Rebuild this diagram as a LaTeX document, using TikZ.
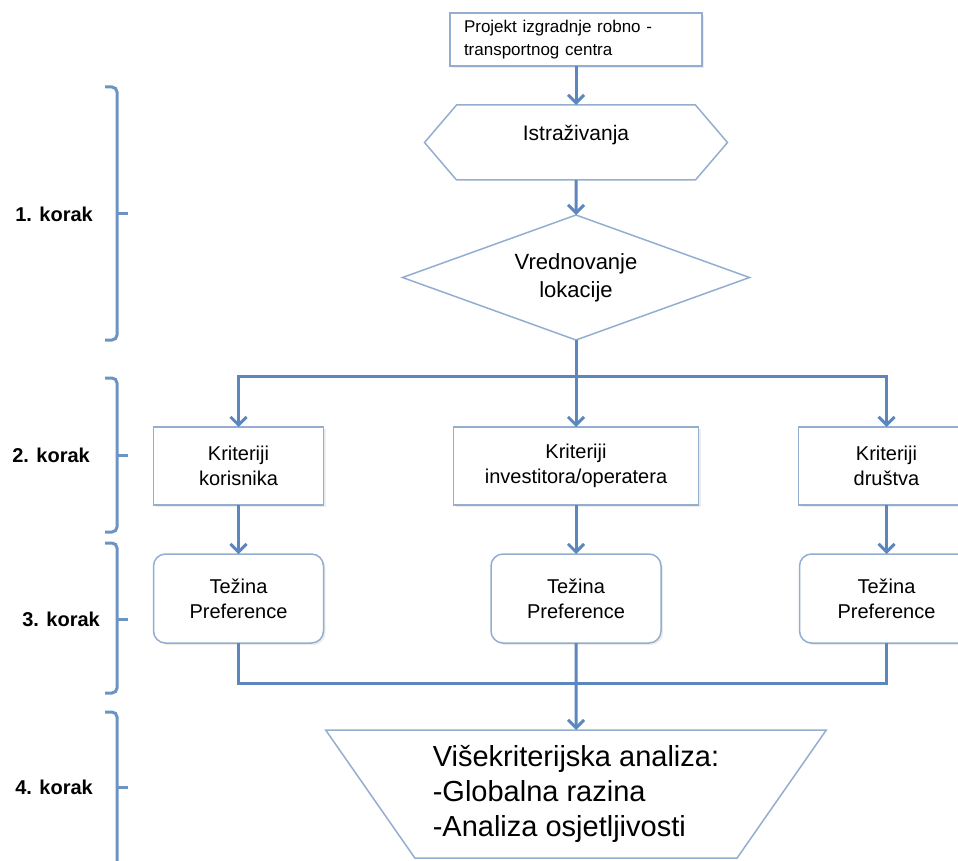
\documentclass[tikz,border=0pt]{standalone}
\usepackage{fontspec}
\setmainfont{Liberation Sans}
\usetikzlibrary{arrows.meta, shapes, shadows, calc, positioning}
\definecolor{flowblue}{HTML}{5B87BE}
\definecolor{boxline}{HTML}{93AECF}
\tikzstyle{projektbox} = [rectangle, draw=boxline, line width=1.5pt, fill=white, text width=224pt, inner xsep=14pt, minimum height=53pt, align=left, outer sep=0pt, drop shadow={opacity=0.15, shadow xshift=2pt, shadow yshift=-2pt}, font=\fontsize{17}{23}\selectfont]
\tikzstyle{hexa} = [signal, signal to=east and west, signal pointer angle=99, draw=boxline, line width=1.5pt, fill=white, minimum width=303pt, minimum height=75pt, text depth=19pt, outer sep=0pt, font=\fontsize{21}{26}\selectfont]
\tikzstyle{odluka} = [diamond, aspect=2.8, draw=boxline, line width=1.5pt, fill=white, minimum width=347pt, minimum height=125pt, inner sep=0pt, align=center, outer sep=0pt, font=\fontsize{22}{28}\selectfont]
\tikzstyle{krit} = [rectangle, draw=boxline, line width=1.5pt, fill=white, minimum height=78pt, align=center, outer sep=0pt, drop shadow={opacity=0.15, shadow xshift=2pt, shadow yshift=-2pt}, font=\fontsize{20}{25}\selectfont]
\tikzstyle{tezina} = [rectangle, rounded corners=12pt, draw=boxline, line width=1.5pt, fill=white, minimum height=89pt, align=center, outer sep=0pt, drop shadow={opacity=0.15, shadow xshift=2pt, shadow yshift=-2pt}, font=\fontsize{20}{25}\selectfont]
\tikzstyle{trapez} = [trapezium, trapezium angle=52, shape border rotate=180, trapezium stretches=true, draw=boxline, line width=1.5pt, fill=white, minimum width=504pt, minimum height=128pt, align=left, outer sep=0pt, font=\fontsize{29}{35}\selectfont]
\tikzstyle{korak} = [anchor=east, inner sep=0pt, font=\fontsize{20}{24}\selectfont\bfseries]
\tikzstyle{brace} = [draw=flowblue!90, line width=3pt, rounded corners=5pt]
\tikzset{
	FLOW/.style={draw=flowblue, line width=3pt, arrows={-{Straight Barb[length=8pt, width=16pt]}}},
	LINE/.style={draw=flowblue, line width=3pt}
}

\begin{document}
\begin{tikzpicture}[x=1pt, y=1pt]
	\useasboundingbox (0,0) rectangle (958,-861);
	\node (projekt) [projektbox] at (576,-39.5) {Projekt izgradnje robno -\\transportnog centra};
	\node (istr) [hexa, below = 39pt of projekt] {Istraživanja};
	\node (vred) [odluka, below = 35pt of istr] {Vrednovanje\\lokacije};
	\coordinate [below = 36pt of vred] (split);
	\node (krit2) [krit, minimum width=245pt, below = 87pt of vred] {Kriteriji\\investitora/operatera};
	\node (krit1) [krit, minimum width=170pt, left = 130pt of krit2] {Kriteriji\\korisnika};
	\node (krit3) [krit, minimum width=176pt, right = 100pt of krit2] {Kriteriji\\društva};
	\node (tez1) [tezina, minimum width=170pt, below = 49pt of krit1] {Težina\\Preference};
	\node (tez2) [tezina, minimum width=170pt, below = 49pt of krit2] {Težina\\Preference};
	\node (tez3) [tezina, minimum width=174pt, below = 49pt of krit3] {Težina\\Preference};
	\coordinate [below = 40pt of tez2] (merge);
	\node (analiza) [trapez, below = 87pt of tez2] {Višekriterijska analiza:\\-Globalna razina\\-Analiza osjetljivosti};
	\draw [FLOW] (projekt) -- (istr);
	\draw [FLOW] (istr) -- (vred);
	\draw [FLOW] (vred) -- (krit2);
	\draw [FLOW] (split) -| (krit1);
	\draw [FLOW] (split) -| (krit3);
	\draw [FLOW] (krit1) -- (tez1);
	\draw [FLOW] (krit2) -- (tez2);
	\draw [FLOW] (krit3) -- (tez3);
	\draw [LINE] (tez1) |- (merge) -| (tez3);
	\draw [FLOW] (tez2) -- (analiza);
	% koraci
	\draw [brace] (105,-87) -- (117,-87) -- (117,-340) -- (105,-340);
	\draw [brace] (117,-214) -- (128,-214);
	\node (korak1) [korak] at (93,-214) {1. korak};
	\draw [brace] (105,-378) -- (117,-378) -- (117,-532) -- (105,-532);
	\draw [brace] (117,-455) -- (128,-455);
	\node (korak2) [korak] at (90,-455) {2. korak};
	\draw [brace] (105,-543) -- (117,-543) -- (117,-693) -- (105,-693);
	\draw [brace] (117,-619) -- (128,-619);
	\node (korak3) [korak] at (100,-619) {3. korak};
	\draw [brace] (105,-712) -- (117,-712) -- (117,-870) -- (105,-870);
	\draw [brace] (117,-787) -- (128,-787);
	\node (korak4) [korak] at (93,-787) {4. korak};
\end{tikzpicture}
\end{document}
